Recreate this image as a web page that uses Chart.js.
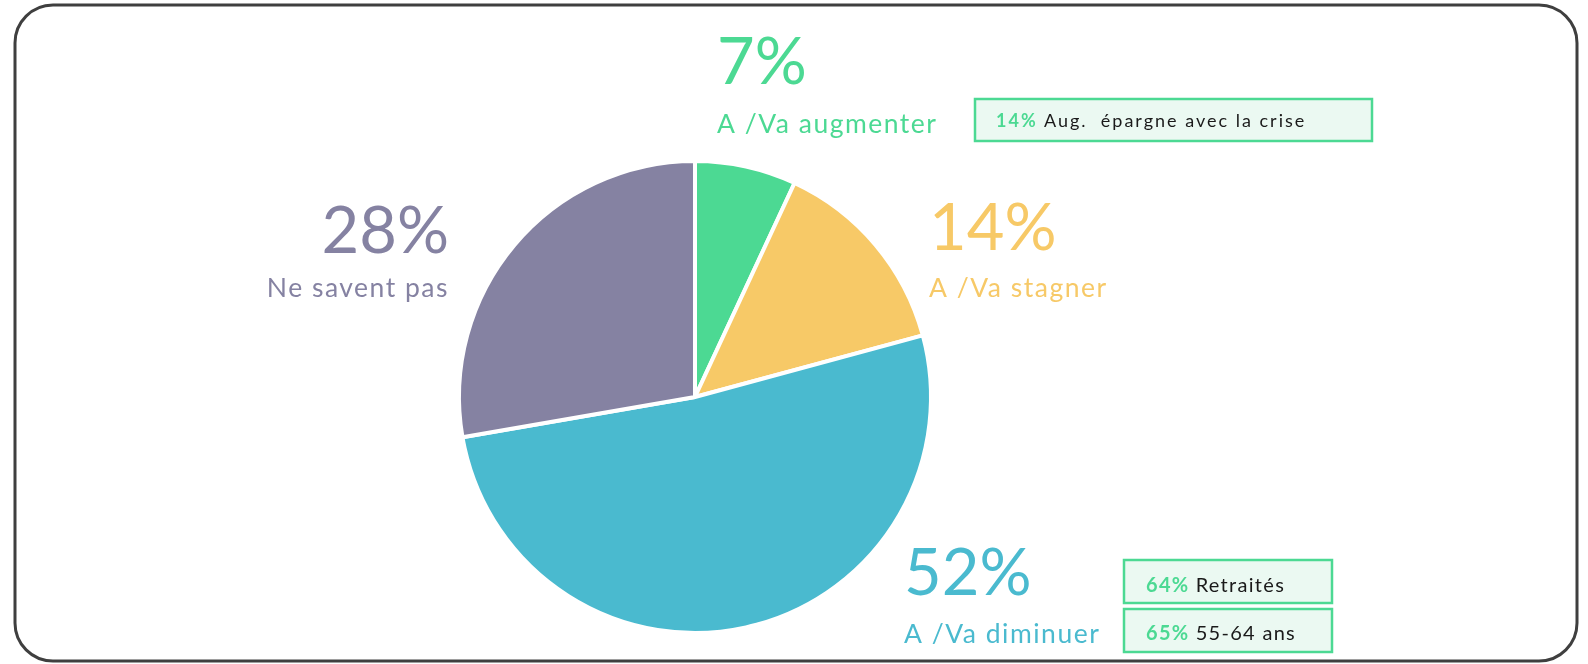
<!DOCTYPE html>
<html><head><meta charset="utf-8">
<script src="https://cdn.jsdelivr.net/npm/chart.js@4"></script>
<style>html,body{margin:0;padding:0;background:#fff;overflow:hidden}canvas{display:block}</style>
</head><body>
<div style="position:relative;width:1588px;height:664px"><canvas id="c" width="1588" height="664" style="width:1588px;height:664px"></canvas></div>
<script>
// ---- data ----
const categories = ['A /Va augmenter', 'A /Va stagner', 'A /Va diminuer', 'Ne savent pas'];
const shares = [7, 14, 52, 28];
const sliceColors = ['#4CD993', '#F7C967', '#4ABACF', '#8582A2'];
const calloutPct = ['14%', '64%', '65%'];
const calloutText = ['Aug.  épargne avec la crise', 'Retraités', '55-64 ans'];

// ---- layout (positions only) ----
const labelLayout = [
  {x: 717, pctY: 84, labY: 133, align: 'left'},
  {x: 929, pctY: 250, labY: 297, align: 'left'},
  {x: 904, pctY: 595, labY: 643, align: 'left'},
  {x: 449, pctY: 253, labY: 297, align: 'right'}
];
const boxLayout = [
  {x: 975, y: 99, w: 397, h: 42, tx: 996, ty: 127, size: 18, spacing: 2},
  {x: 1124, y: 560, w: 208, h: 43, tx: 1146, ty: 592, size: 20, spacing: 1.3},
  {x: 1124, y: 609, w: 208, h: 43, tx: 1146, ty: 640, size: 20, spacing: 1.3}
];
const FONT = 'Lato, "Open Sans", sans-serif';

function roundRect(ctx, x, y, w, h, r) {
  ctx.beginPath();
  ctx.moveTo(x + r, y);
  ctx.lineTo(x + w - r, y);
  ctx.arcTo(x + w, y, x + w, y + r, r);
  ctx.lineTo(x + w, y + h - r);
  ctx.arcTo(x + w, y + h, x + w - r, y + h, r);
  ctx.lineTo(x + r, y + h);
  ctx.arcTo(x, y + h, x, y + h - r, r);
  ctx.lineTo(x, y + r);
  ctx.arcTo(x, y, x + r, y, r);
  ctx.closePath();
}

const decor = {
  id: 'decor',
  beforeDraw(chart) {
    const ctx = chart.ctx;
    ctx.save();
    ctx.fillStyle = '#fff';
    ctx.fillRect(0, 0, chart.width, chart.height);
    ctx.lineWidth = 3;
    ctx.strokeStyle = '#3F3F3F';
    roundRect(ctx, 15, 5, 1562, 656, 38);
    ctx.stroke();
    ctx.restore();
  },
  afterDraw(chart) {
    const ctx = chart.ctx;
    ctx.save();
    ctx.textBaseline = 'alphabetic';
    categories.forEach((cat, i) => {
      const L = labelLayout[i];
      ctx.fillStyle = sliceColors[i];
      ctx.textAlign = L.align;
      ctx.letterSpacing = '0px';
      ctx.font = '65px ' + FONT;
      ctx.fillText(shares[i] + '%', L.x, L.pctY);
      ctx.font = '26.5px ' + FONT;
      ctx.letterSpacing = '1.5px';
      ctx.fillText(cat, L.x, L.labY);
    });
    ctx.textAlign = 'left';
    calloutPct.forEach((p, i) => {
      const B = boxLayout[i];
      ctx.fillStyle = '#EBF9F2';
      ctx.fillRect(B.x, B.y, B.w, B.h);
      ctx.lineWidth = 2.5;
      ctx.strokeStyle = '#4CD993';
      ctx.strokeRect(B.x, B.y, B.w, B.h);
      ctx.letterSpacing = B.spacing + 'px';
      ctx.font = 'bold ' + B.size + 'px ' + FONT;
      ctx.fillStyle = '#4CD993';
      ctx.fillText(p, B.tx, B.ty);
      const w = ctx.measureText(p + ' ').width;
      ctx.font = B.size + 'px ' + FONT;
      ctx.fillStyle = '#1A1A1A';
      ctx.fillText(calloutText[i], B.tx + w, B.ty);
    });
    ctx.restore();
  }
};

new Chart(document.getElementById('c'), {
  type: 'pie',
  data: {
    labels: categories,
    datasets: [{
      data: shares,
      backgroundColor: sliceColors,
      borderColor: '#FFFFFF',
      borderWidth: 4
    }]
  },
  options: {
    responsive: false,
    animation: false,
    devicePixelRatio: 1,
    layout: {padding: {left: 457, top: 159, right: 655, bottom: 29}},
    plugins: {legend: {display: false}, tooltip: {enabled: false}}
  },
  plugins: [decor]
});
</script>
</body></html>
